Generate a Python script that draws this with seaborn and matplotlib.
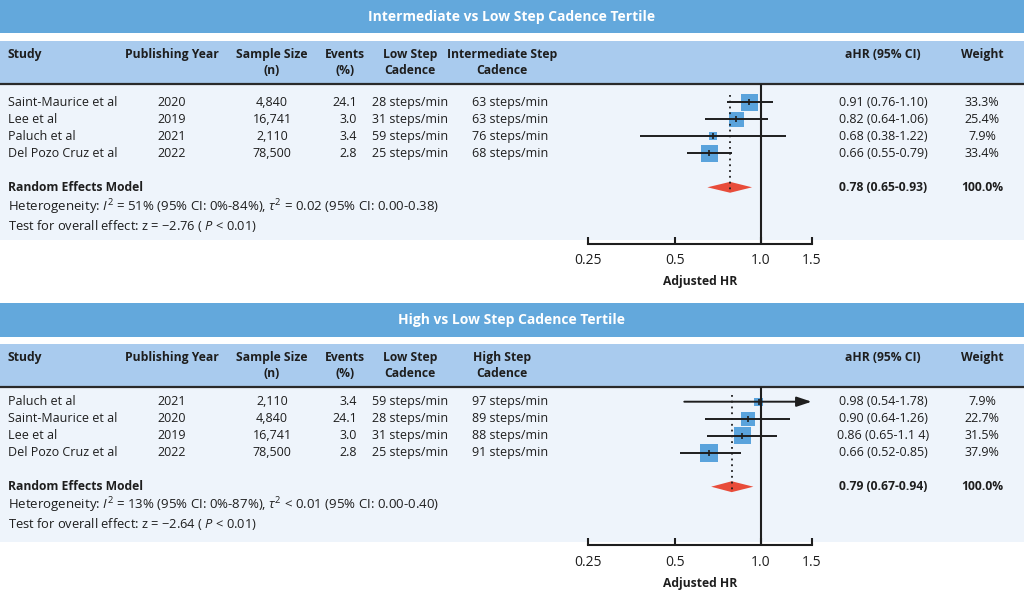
import numpy as np
import pandas as pd
import matplotlib
matplotlib.use("Agg")
import matplotlib.pyplot as plt
import seaborn as sns

# ---------------- data ----------------
p1_title = "Intermediate vs Low Step Cadence Tertile"
p1_study = ["Saint-Maurice et al", "Lee et al", "Paluch et al", "Del Pozo Cruz et al"]
p1_year = ["2020", "2019", "2021", "2022"]
p1_n = ["4,840", "16,741", "2,110", "78,500"]
p1_events = ["24.1", "3.0", "3.4", "2.8"]
p1_low = ["28 steps/min", "31 steps/min", "59 steps/min", "25 steps/min"]
p1_cmp = ["63 steps/min", "63 steps/min", "76 steps/min", "68 steps/min"]
p1_hr = [0.91, 0.82, 0.68, 0.66]
p1_lo = [0.76, 0.64, 0.38, 0.55]
p1_hi = [1.10, 1.06, 1.22, 0.79]
p1_weight = [33.3, 25.4, 7.9, 33.4]
p1_ci_text = ["0.91 (0.76-1.10)", "0.82 (0.64-1.06)", "0.68 (0.38-1.22)", "0.66 (0.55-0.79)"]
p1_w_text = ["33.3%", "25.4%", "7.9%", "33.4%"]
p1_re = [0.78, 0.65, 0.93]
p1_re_text = "0.78 (0.65-0.93)"
p1_het = r"Heterogeneity: $I^2$ = 51% (95% CI: 0%-84%), $\tau^2$ = 0.02 (95% CI: 0.00-0.38)"
p1_test = r"Test for overall effect: z = −2.76 ( $P$ < 0.01)"
p1_cmp_head = ["Intermediate Step", "Cadence"]

p2_title = "High vs Low Step Cadence Tertile"
p2_study = ["Paluch et al", "Saint-Maurice et al", "Lee et al", "Del Pozo Cruz et al"]
p2_year = ["2021", "2020", "2019", "2022"]
p2_n = ["2,110", "4,840", "16,741", "78,500"]
p2_events = ["3.4", "24.1", "3.0", "2.8"]
p2_low = ["59 steps/min", "28 steps/min", "31 steps/min", "25 steps/min"]
p2_cmp = ["97 steps/min", "89 steps/min", "88 steps/min", "91 steps/min"]
p2_hr = [0.98, 0.90, 0.86, 0.66]
p2_lo = [0.54, 0.64, 0.65, 0.52]
p2_hi = [1.78, 1.26, 1.14, 0.85]
p2_weight = [7.9, 22.7, 31.5, 37.9]
p2_ci_text = ["0.98 (0.54-1.78)", "0.90 (0.64-1.26)", "0.86 (0.65-1.1 4)", "0.66 (0.52-0.85)"]
p2_w_text = ["7.9%", "22.7%", "31.5%", "37.9%"]
p2_re = [0.79, 0.67, 0.94]
p2_re_text = "0.79 (0.67-0.94)"
p2_het = r"Heterogeneity: $I^2$ = 13% (95% CI: 0%-87%), $\tau^2$ < 0.01 (95% CI: 0.00-0.40)"
p2_test = r"Test for overall effect: z = −2.64 ( $P$ < 0.01)"
p2_cmp_head = ["High Step", "Cadence"]

x_ticks = [0.25, 0.5, 1.0, 1.5]
x_tick_labels = ["0.25", "0.5", "1.0", "1.5"]

# ---------------- style ----------------
sns.set_theme(style="white")
plt.rcParams["font.family"] = ["Open Sans", "DejaVu Sans"]
plt.rcParams["mathtext.fontset"] = "custom"
plt.rcParams["mathtext.rm"] = "Open Sans"
plt.rcParams["mathtext.it"] = "Open Sans:italic"
plt.rcParams["mathtext.bf"] = "Open Sans:bold"

TITLE_BG = "#63a8dc"
HEAD_BG = "#a9cbee"
BODY_BG = "#eef4fb"
SQ = "#5aa3dc"
RED = "#e84c3a"
INK = "#1e1e1e"
FS = 9.0
FSB = 8.7

W, H = 1024, 590
fig = plt.figure(figsize=(W / 100, H / 100), dpi=100)
bg = fig.add_axes([0, 0, 1, 1])
bg.set_xlim(0, W)
bg.set_ylim(H, 0)
bg.axis("off")

AX_L, AX_R = 588.3, 811.6
ROW_STEP = 17.0

panels = [
    dict(title=p1_title, study=p1_study, year=p1_year, n=p1_n, events=p1_events, low=p1_low,
         cmp=p1_cmp, hr=p1_hr, lo=p1_lo, hi=p1_hi, weight=p1_weight, ci_text=p1_ci_text,
         w_text=p1_w_text, re=p1_re, re_text=p1_re_text, het=p1_het, test=p1_test,
         cmp_head=p1_cmp_head,
         title_box=(0, 33.3), head_box=(41, 84), body_end=240, axis_y=243.5,
         row0=102.3, head_y=54.5, het_y=207, test_y=226),
    dict(title=p2_title, study=p2_study, year=p2_year, n=p2_n, events=p2_events, low=p2_low,
         cmp=p2_cmp, hr=p2_hr, lo=p2_lo, hi=p2_hi, weight=p2_weight, ci_text=p2_ci_text,
         w_text=p2_w_text, re=p2_re, re_text=p2_re_text, het=p2_het, test=p2_test,
         cmp_head=p2_cmp_head,
         title_box=(303.3, 336.7), head_box=(344, 387), body_end=541.7, axis_y=545,
         row0=401.7, head_y=357.7, het_y=505.5, test_y=524.5),
]

for P in panels:
    t0, t1 = P["title_box"]
    h0, h1 = P["head_box"]
    bg.add_patch(plt.Rectangle((0, t0), W, t1 - t0, color=TITLE_BG, lw=0))
    bg.add_patch(plt.Rectangle((0, h0), W, h1 - h0, color=HEAD_BG, lw=0))
    bg.add_patch(plt.Rectangle((0, h1), W, P["body_end"] - h1, color=BODY_BG, lw=0))
    bg.plot([0, W], [h1, h1], color="#2a2a2a", lw=1.6)
    bg.text(W / 2, (t0 + t1) / 2, P["title"], color="white", fontsize=10.0,
            fontweight="bold", ha="center", va="center")

    # header
    hy = P["head_y"]
    hy2 = hy + 16
    hk = dict(fontsize=FSB, fontweight="bold", color=INK, va="center")
    bg.text(8, hy, "Study", ha="left", **hk)
    bg.text(172, hy, "Publishing Year", ha="center", **hk)
    bg.text(272, hy, "Sample Size", ha="center", **hk)
    bg.text(272, hy2, "(n)", ha="center", **hk)
    bg.text(345, hy, "Events", ha="center", **hk)
    bg.text(345, hy2, "(%)", ha="center", **hk)
    bg.text(410, hy, "Low Step", ha="center", **hk)
    bg.text(410, hy2, "Cadence", ha="center", **hk)
    bg.text(502, hy, P["cmp_head"][0], ha="center", **hk)
    bg.text(502, hy2, P["cmp_head"][1], ha="center", **hk)
    bg.text(883, hy, "aHR (95% CI)", ha="center", **hk)
    bg.text(982, hy, "Weight", ha="center", **hk)

    # rows
    rk = dict(fontsize=FS, color=INK, va="center")
    for i in range(len(P["study"])):
        y = P["row0"] + i * ROW_STEP
        bg.text(8, y, P["study"][i], ha="left", **rk)
        bg.text(172, y, P["year"][i], ha="center", **rk)
        bg.text(272, y, P["n"][i], ha="center", **rk)
        bg.text(357, y, P["events"][i], ha="right", **rk)
        bg.text(410, y, P["low"][i], ha="center", **rk)
        bg.text(510, y, P["cmp"][i], ha="center", **rk)
        bg.text(883, y, P["ci_text"][i], ha="center", **rk)
        bg.text(982, y, P["w_text"][i], ha="center", **rk)
    re_row = len(P["study"]) + 1
    ry = P["row0"] + re_row * ROW_STEP
    bk = dict(fontsize=FSB, color=INK, va="center", fontweight="bold")
    bg.text(8, ry, "Random Effects Model", ha="left", **bk)
    bg.text(883, ry, P["re_text"], ha="center", **bk)
    bg.text(982, ry, "100.0%", ha="center", **bk)
    bg.text(8, P["het_y"], P["het"], ha="left", fontsize=9.5, color=INK, va="center")
    bg.text(8, P["test_y"], P["test"], ha="left", fontsize=9.3, color=INK, va="center")

    # forest axes
    y_top_px, y_bot_px = h1, P["axis_y"]
    ax = fig.add_axes([AX_L / W, 1 - y_bot_px / H, (AX_R - AX_L) / W, (y_bot_px - y_top_px) / H])
    ax.patch.set_alpha(0)
    ax.set_xscale("log")
    ax.set_xlim(0.25, 1.5)
    ax.set_ylim((y_bot_px - P["row0"]) / ROW_STEP, (y_top_px - P["row0"]) / ROW_STEP)

    df = pd.DataFrame(dict(row=np.arange(len(P["hr"])), hr=P["hr"], lo=P["lo"],
                           hi=P["hi"], weight=P["weight"]))
    sns.scatterplot(data=df, x="hr", y="row", size="weight", sizes=(0, 451), size_norm=(0, 100),
                    marker="s", color=SQ, linewidth=0, legend=False, ax=ax, zorder=2,
                    clip_on=False)
    xmax = 1.5
    inside = df[df.hi <= xmax]
    ax.hlines(inside.row, inside.lo, inside.hi, color=INK, lw=1.4, zorder=3)
    for _, r in df[df.hi > xmax].iterrows():
        ax.annotate("", xy=(xmax, r.row), xytext=(r.lo, r.row), annotation_clip=False,
                    arrowprops=dict(arrowstyle="-|>,head_length=0.9,head_width=0.3",
                                    color=INK, lw=1.4, mutation_scale=10,
                                    shrinkA=0, shrinkB=0))
    ax.scatter(df.hr, df.row, marker="|", s=22, color=INK, linewidths=1.2, zorder=4)

    est, lo, hi = P["re"]
    ax.fill([lo, est, hi, est], [re_row, re_row - 0.32, re_row, re_row + 0.32],
            color=RED, lw=0, zorder=2)
    ax.axvline(1.0, color=INK, lw=1.5, zorder=3)
    ax.vlines(est, -0.42, re_row + 0.3, color=INK, lw=1.3, linestyles=(0, (1, 2.2)), zorder=4)

    for s in ["top", "right", "left"]:
        ax.spines[s].set_visible(False)
    ax.spines["bottom"].set_color(INK)
    ax.spines["bottom"].set_linewidth(1.5)
    ax.set_xticks(x_ticks)
    ax.set_xticklabels(x_tick_labels)
    ax.minorticks_off()
    ax.set_yticks([])
    ax.tick_params(axis="x", direction="in", length=5, width=1.5, color=INK,
                   labelsize=10, labelcolor=INK, pad=7, bottom=True)
    ax.set_xlabel("Adjusted HR", fontsize=FSB, fontweight="bold", color=INK, labelpad=5)
    ax.set_ylabel("")

fig.savefig("out.png", dpi=100)
